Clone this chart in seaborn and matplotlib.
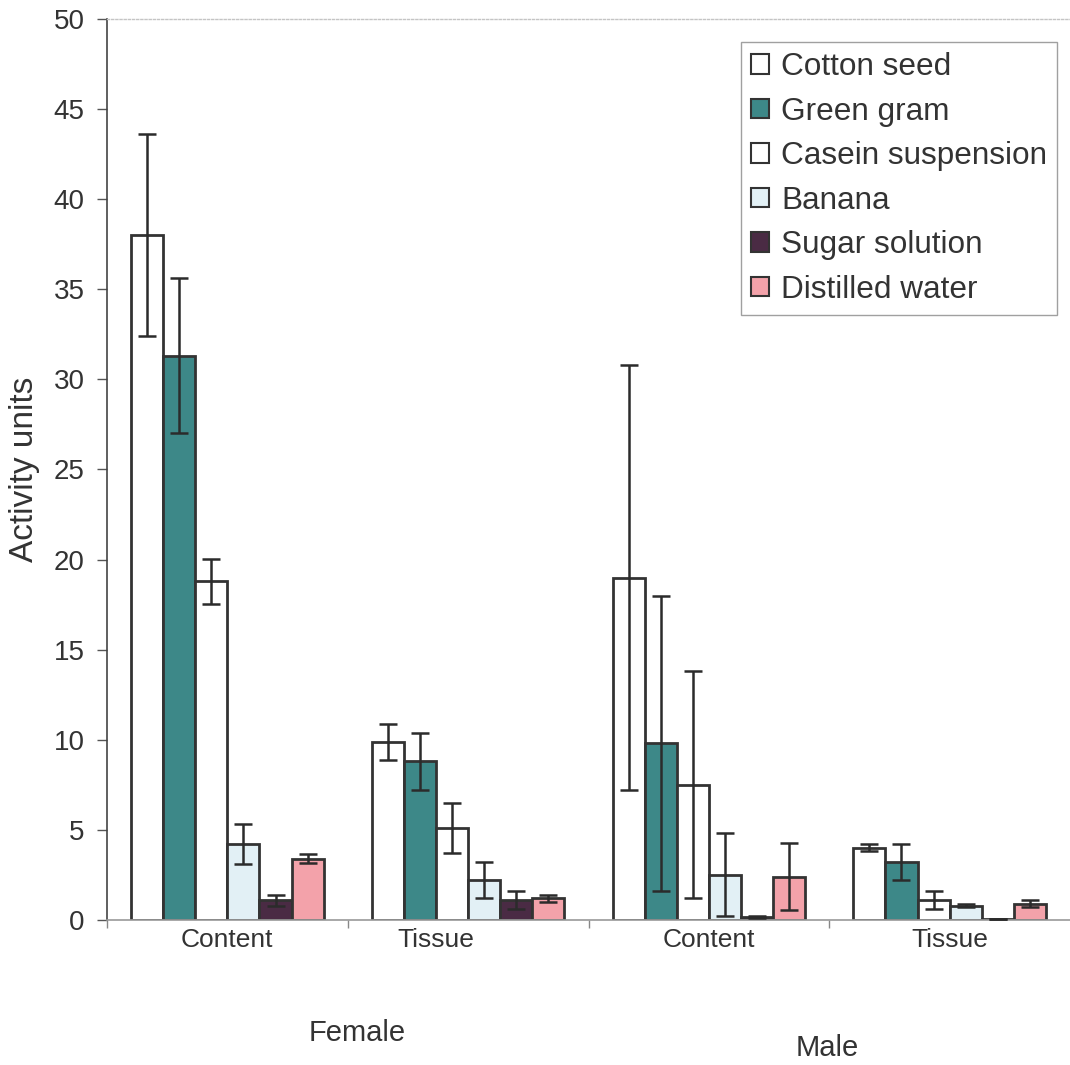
import numpy as np
import pandas as pd
import seaborn as sns
import matplotlib
matplotlib.use("Agg")
import matplotlib.pyplot as plt
import matplotlib.transforms as mtransforms
from matplotlib.patches import Patch

# ---- data -------------------------------------------------------------
sex = ["Female", "Female", "Male", "Male"]
site = ["Content", "Tissue", "Content", "Tissue"]

diets = ["Cotton seed", "Green gram", "Casein suspension",
         "Banana", "Sugar solution", "Distilled water"]

# mean activity per diet, one value per (sex, site) group
cotton_seed = [38.0, 9.9, 19.0, 4.0]
green_gram = [31.3, 8.8, 9.8, 3.2]
casein_suspension = [18.8, 5.1, 7.5, 1.1]
banana = [4.2, 2.2, 2.5, 0.8]
sugar_solution = [1.1, 1.1, 0.15, 0.05]
distilled_water = [3.4, 1.2, 2.4, 0.9]

# error (standard deviation) per diet
cotton_seed_err = [5.6, 1.0, 11.8, 0.2]
green_gram_err = [4.3, 1.6, 8.2, 1.0]
casein_suspension_err = [1.25, 1.4, 6.3, 0.5]
banana_err = [1.1, 1.0, 2.3, 0.1]
sugar_solution_err = [0.3, 0.5, 0.05, 0.0]
distilled_water_err = [0.25, 0.2, 1.85, 0.2]

means = [cotton_seed, green_gram, casein_suspension,
         banana, sugar_solution, distilled_water]
errors = [cotton_seed_err, green_gram_err, casein_suspension_err,
          banana_err, sugar_solution_err, distilled_water_err]

colors = ["#ffffff", "#3d8888", "#ffffff", "#e2f0f5", "#4a2b44", "#f3a2aa"]

groups = [f"{s} {t}" for s, t in zip(sex, site)]
rows = []
for d, m, e in zip(diets, means, errors):
    for g, v, sd in zip(groups, m, e):
        rows.append({"group": g, "diet": d, "activity": v, "sd": sd})
df = pd.DataFrame(rows)

# ---- figure -----------------------------------------------------------
sns.set_theme(style="white")
plt.rcParams["font.family"] = ["Liberation Sans", "DejaVu Sans"]

fig = plt.figure(figsize=(10.7, 10.65), dpi=100)
ax = fig.add_axes([0.1, 0.1362, 0.9, 0.846])

edge = "#333333"
sns.barplot(data=df, x="group", y="activity", hue="diet",
            order=groups, hue_order=diets, palette=colors,
            errorbar=None, width=0.8, edgecolor=edge, linewidth=2.0,
            saturation=1, legend=False, ax=ax)

# error bars at each bar's centre
for cont, err in zip(ax.containers, errors):
    xs = [b.get_x() + b.get_width() / 2 for b in cont]
    ys = [b.get_height() for b in cont]
    ax.errorbar(xs, ys, yerr=err, fmt="none", ecolor="#2b2b2b",
                elinewidth=1.8, capsize=6.5, capthick=1.8, zorder=5)

# y axis
ax.set_ylim(0, 50)
ax.set_yticks(np.arange(0, 51, 5))
ax.tick_params(axis="y", which="major", direction="out", length=7,
               width=1, color="#555555", labelsize=20, labelcolor="#333333",
               pad=9, left=True)
ax.set_ylabel("Activity units", fontsize=24, color="#333333", labelpad=10)

# x axis: ticks at group boundaries, labels at group centres
ax.set_xlim(-0.5, 3.5)
ax.set_xticks([-0.5, 0.5, 1.5, 2.5])
ax.set_xticklabels([])
ax.set_xticks(range(len(groups)), minor=True)
ax.set_xticklabels(site, minor=True)
ax.tick_params(axis="x", which="major", direction="out", length=6,
               width=1, color="#888888", bottom=True)
ax.tick_params(axis="x", which="minor", length=0, labelsize=19,
               labelcolor="#333333", pad=6)
ax.set_xlabel("")

# the female tissue label sits a little left of its group
lbl = ax.xaxis.get_minorticklabels()[1]
lbl.set_transform(lbl.get_transform() +
                  mtransforms.ScaledTranslation(-0.32, 0, fig.dpi_scale_trans))

# spines
ax.spines["left"].set_color("#444444")
ax.spines["left"].set_linewidth(1.2)
ax.spines["bottom"].set_color("#9a9a9a")
ax.spines["bottom"].set_linestyle((0, (2, 1)))
ax.spines["bottom"].set_linewidth(1.2)
ax.spines["top"].set_color("#c4c4c4")
ax.spines["top"].set_linestyle((0, (1.5, 1.5)))
ax.spines["top"].set_linewidth(1.0)
ax.spines["right"].set_visible(False)

# sex labels below the axis
trans = mtransforms.blended_transform_factory(ax.transData, fig.transFigure)
ax.text(0.54, 1 - 1033 / 1065, "Female", transform=trans, ha="center",
        va="center", fontsize=21, color="#333333")
ax.text(2.49, 1 - 1048 / 1065, "Male", transform=trans, ha="center",
        va="center", fontsize=21, color="#333333")

# legend
handles = [Patch(facecolor=c, edgecolor=edge, linewidth=1.5) for c in colors]
leg = ax.legend(handles, diets, loc="upper right",
                bbox_to_anchor=(0.9865, 0.9745), borderaxespad=0,
                fontsize=22.7, handlelength=0.58, handleheight=0.58,
                handletextpad=0.38, labelspacing=0.46, borderpad=0.32,
                frameon=True, fancybox=False, framealpha=1)
leg.get_frame().set_edgecolor("#a0a0a0")
leg.get_frame().set_linewidth(1.0)
for t in leg.get_texts():
    t.set_color("#333333")

fig.savefig("out.png", dpi=100, facecolor="white")
